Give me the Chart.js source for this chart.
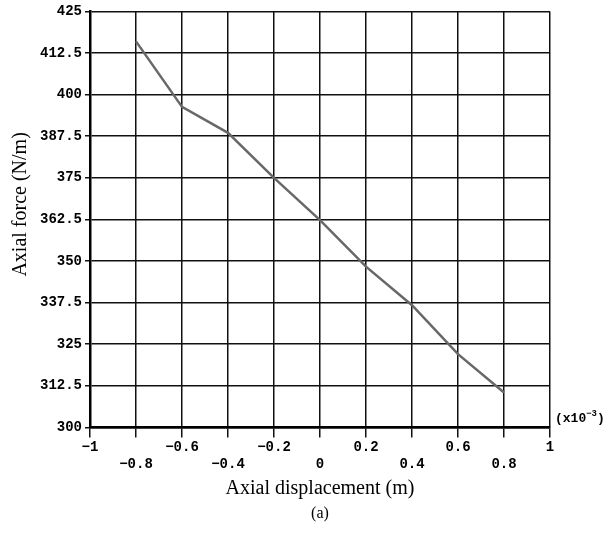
<!DOCTYPE html>
<html>
<head>
<meta charset="utf-8">
<script src="https://cdn.jsdelivr.net/npm/chart.js@4"></script>
<style>
  body { margin: 0; background: #fff; }
  #wrap { width: 613px; height: 533px; }
</style>
</head>
<body>
<div id="wrap"><canvas id="forceChart"></canvas></div>
<script>
// axial displacement (x10^-3 m) and axial force (N/m)
const displacement = [-0.8, -0.6, -0.4, -0.2, 0, 0.2, 0.4, 0.6, 0.8];
const axialForce = [416, 396.3, 388.5, 375, 362.3, 348.3, 336.7, 322, 310.5];
const xTickLabels = ['−1', '−0.8', '−0.6', '−0.4', '−0.2', '0', '0.2', '0.4', '0.6', '0.8', '1'];
const yTickLabels = ['300', '312.5', '325', '337.5', '350', '362.5', '375', '387.5', '400', '412.5', '425'];

const monoFont = { family: '"Liberation Mono", "DejaVu Sans Mono", monospace', size: 14, weight: 'bold', lineHeight: 1.2 };
const serifFam = '"Liberation Serif", "DejaVu Serif", serif';

// "(x10^-3)" note at the end of the x axis and the "(a)" caption under the plot
const extraText = {
  id: 'extraText',
  afterDraw(chart) {
    const ctx = chart.ctx;
    const area = chart.chartArea;
    ctx.save();
    ctx.fillStyle = '#000';
    ctx.textBaseline = 'alphabetic';
    ctx.textAlign = 'left';
    ctx.font = 'bold 13px "Liberation Mono", monospace';
    let x = area.right + 5;
    const y = area.bottom - 5;
    ctx.fillText('(x10', x, y);
    x += ctx.measureText('(x10').width;
    ctx.font = 'bold 9px "Liberation Mono", monospace';
    ctx.fillText('−3', x, y - 6);
    x += ctx.measureText('−3').width;
    ctx.font = 'bold 13px "Liberation Mono", monospace';
    ctx.fillText(')', x, y);

    ctx.font = '16px ' + serifFam;
    ctx.textAlign = 'center';
    ctx.textBaseline = 'middle';
    ctx.fillText('(a)', (area.left + area.right) / 2, 514);
    ctx.restore();
  }
};

const ctx = document.getElementById('forceChart').getContext('2d');
new Chart(ctx, {
  type: 'scatter',
  data: {
    datasets: [{
      data: displacement.map((d, i) => ({ x: d, y: axialForce[i] })),
      showLine: true,
      borderColor: '#686868',
      borderWidth: 2.5,
      pointRadius: 0,
      tension: 0
    }]
  },
  options: {
    responsive: true,
    maintainAspectRatio: false,
    animation: false,
    layout: { padding: { left: 9, right: 63, top: 5, bottom: 32 } },
    plugins: {
      legend: { display: false },
      tooltip: { enabled: false }
    },
    scales: {
      x: {
        type: 'linear',
        min: -1,
        max: 1,
        ticks: {
          stepSize: 0.2,
          color: '#000',
          font: monoFont,
          maxRotation: 0,
          autoSkip: false,
          padding: 2,
          callback: (v, i) => {
            const lab = xTickLabels[i];
            return i % 2 === 0 ? [lab, ''] : ['', lab];
          }
        },
        grid: { color: '#111', lineWidth: 1.5, tickLength: 10 },
        border: { color: '#000', width: 2.5 },
        title: {
          display: true,
          text: 'Axial displacement (m)',
          color: '#000',
          font: { family: serifFam, size: 20 },
          padding: { top: 2, bottom: 0 }
        }
      },
      y: {
        min: 300,
        max: 425,
        ticks: {
          stepSize: 12.5,
          color: '#000',
          font: monoFont,
          padding: 3,
          callback: (v, i) => yTickLabels[i]
        },
        grid: { color: '#111', lineWidth: 1.5, tickLength: 5 },
        border: { color: '#000', width: 2.5 },
        title: {
          display: true,
          // leading spaces nudge the rotated title up a little, like the original
          text: '      Axial force (N/m)',
          color: '#000',
          font: { family: serifFam, size: 20 },
          padding: { top: 0, bottom: 4 }
        }
      }
    }
  },
  plugins: [extraText]
});
</script>
</body>
</html>
